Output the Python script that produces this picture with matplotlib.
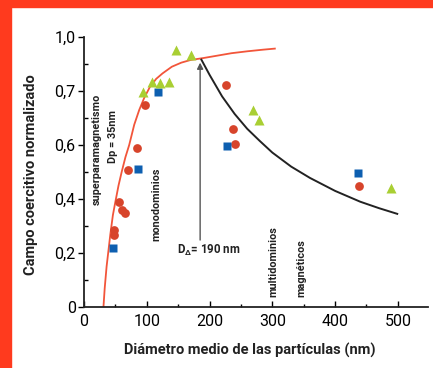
import matplotlib
matplotlib.use("Agg")
import matplotlib.pyplot as plt
from matplotlib.patches import Rectangle

# datos (eje y en posicion de eje: 0..1)
circ_x = [47.5, 47.5, 55, 60, 65, 70.6, 83.8, 97, 227, 238, 240, 438]
circ_y = [0.284, 0.267, 0.39, 0.359, 0.347, 0.507, 0.59, 0.748, 0.821, 0.658, 0.605, 0.449]

sq_x = [46.7, 86.5, 118.4, 228, 437]
sq_y = [0.217, 0.511, 0.797, 0.597, 0.497]

tri_x = [94.4, 108.8, 121, 135.4, 146.5, 170.4, 269.6, 279, 489]
tri_y = [0.797, 0.834, 0.828, 0.834, 0.952, 0.933, 0.73, 0.693, 0.442]

# curva roja (superparamagnetismo -> monodominios)
rojo_x = [31, 33, 36, 39, 42, 46, 50, 55, 60, 66, 72, 80, 88, 96, 105, 115,
          125, 140, 155, 170, 190, 210, 235, 260, 285, 304]
rojo_y = [0, 0.07, 0.15, 0.21, 0.27, 0.34, 0.39, 0.45, 0.5, 0.555, 0.6, 0.675,
          0.73, 0.775, 0.815, 0.845, 0.865, 0.89, 0.905, 0.915, 0.922, 0.93,
          0.94, 0.947, 0.953, 0.957]

# curva negra (multidominios)
negro_x = [187, 200, 220, 240, 260, 280, 300, 330, 360, 400, 440, 470, 499]
negro_y = [0.916, 0.86, 0.78, 0.715, 0.66, 0.615, 0.572, 0.52, 0.478, 0.43,
           0.39, 0.366, 0.345]

y_ticks = [0, 0.2, 0.4, 0.6, 0.8, 1.0]
y_labels = ["0", "0,2", "0,4", "0,6", "0,7", "1,0"]
x_ticks = [0, 100, 200, 300, 400, 500]

plt.rcParams["font.family"] = ["Roboto", "DejaVu Sans"]
plt.rcParams["mathtext.fontset"] = "custom"
plt.rcParams["mathtext.rm"] = "Roboto"
plt.rcParams["mathtext.bf"] = "Roboto:bold"

fig = plt.figure(figsize=(4.33, 3.68), dpi=100)
ax = fig.add_axes([84 / 433, 1 - 307 / 368, 344 / 433, 270 / 368])

# marco rojo
fig.patches.append(Rectangle((0, 1 - 7 / 368), 1, 7 / 368, transform=fig.transFigure,
                             color="#ff3a1e", zorder=0))
fig.patches.append(Rectangle((0, 0), 11 / 433, 1, transform=fig.transFigure,
                             color="#ff3a1e", zorder=0))

ax.plot(rojo_x, rojo_y, color="#f2553a", lw=1.3, zorder=2)
ax.plot(negro_x, negro_y, color="#222222", lw=1.4, zorder=2)

ax.plot(circ_x, circ_y, "o", color="#d7442b", ms=6.3, mec="none", zorder=3)
ax.plot(sq_x, sq_y, "s", color="#0d5fb0", ms=5.3, mec="none", zorder=3)
ax.plot(tri_x, tri_y, "^", color="#a9cf33", ms=6.8, mec="none", zorder=3)

# flecha D = 190 nm
ax.annotate("", xy=(185, 0.905), xytext=(185, 0.248),
            arrowprops=dict(arrowstyle="-|>", color="#555555", lw=1.0,
                            mutation_scale=9, shrinkA=0, shrinkB=0))
ax.text(199, 0.211, r"D$_{\mathbf{\Delta}}$= 190 nm", fontsize=8.3, fontweight="bold",
        ha="center", va="center", color="#222222")

txt = dict(rotation=90, ha="center", va="center", fontsize=7.8,
           fontweight="bold", color="#222222")
ax.text(20.2, 0.585, "superparamagnetismo", **txt)
ax.text(45.7, 0.631, "Dp = 35nm", **txt)
ax.text(115.8, 0.381, "monodominios", **txt)
ax.text(301.4, 0.17, "multidominios", **txt)
ax.text(345.5, 0.144, "magnéticos", **txt)

ax.set_xlim(0, 548)
ax.set_ylim(0, 1.0)
ax.set_xticks(x_ticks)
ax.set_xticks(range(50, 550, 100), minor=True)
ax.set_yticks(y_ticks)
ax.set_yticklabels(y_labels)
ax.set_yticks([0.1, 0.3, 0.5, 0.7, 0.9], minor=True)

ax.tick_params(axis="x", which="major", direction="in", length=4, width=1, labelsize=11.5, pad=5)
ax.tick_params(axis="x", which="minor", direction="in", length=2.5, width=1)
ax.tick_params(axis="y", which="major", direction="out", length=4, width=1, labelsize=11.5, pad=2)
ax.tick_params(axis="y", which="minor", direction="in", length=3, width=1)

for s in ["top", "right"]:
    ax.spines[s].set_visible(False)
for s in ["left", "bottom"]:
    ax.spines[s].set_linewidth(1.3)
    ax.spines[s].set_color("#222222")

ax.set_xlabel("Diámetro medio de las partículas (nm)", fontsize=10.5, fontweight="bold",
              color="#222222")
ax.set_ylabel("Campo coercitivo normalizado", fontsize=10.5, fontweight="bold",
              color="#222222")
ax.xaxis.set_label_coords(0.483, -0.133)
ax.yaxis.set_label_coords(-0.135, 0.489)

plt.savefig("out.png", dpi=100)
